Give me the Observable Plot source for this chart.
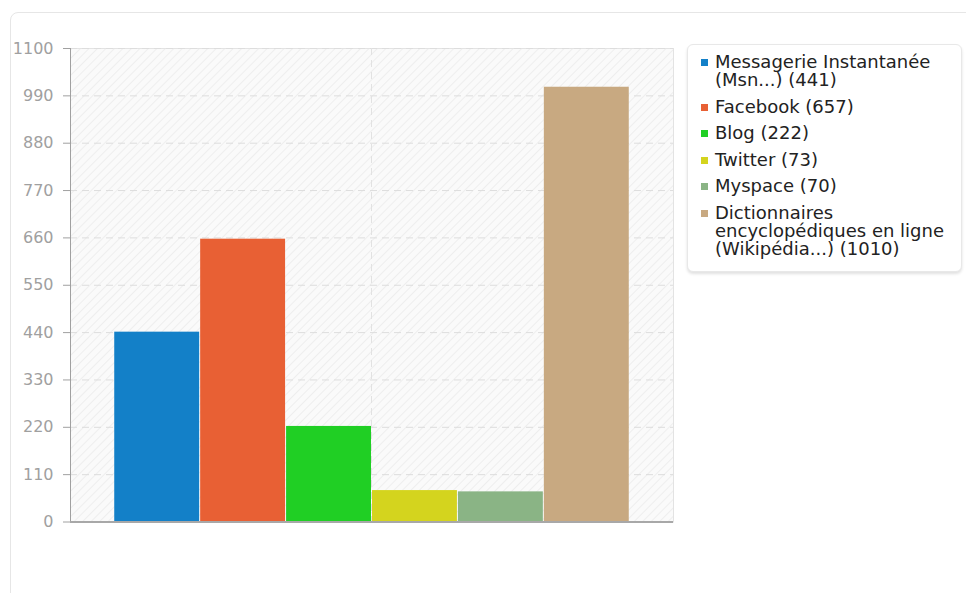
<!DOCTYPE html>
<html>
<head>
<meta charset="utf-8">
<script src="https://cdn.jsdelivr.net/npm/d3@7"></script>
<script src="https://cdn.jsdelivr.net/npm/@observablehq/plot@0.6"></script>
<style>
  html, body { margin: 0; padding: 0; background: #fff; overflow: hidden; }
  body { width: 966px; height: 593px; position: relative; font-family: 'DejaVu Sans', sans-serif; }
  #card { position: absolute; left: 10px; top: 12px; width: 990px; height: 640px;
          border: 1px solid #e6e6e6; border-radius: 8px; box-sizing: border-box; }
  #chart { position: absolute; left: 0; top: 0; }
  #legend { position: absolute; left: 687px; top: 44px; width: 275px; height: 228px; box-sizing: border-box;
            border: 1px solid #e8e8e8; border-radius: 6px; background: #fff;
            box-shadow: 0 2px 3px rgba(0,0,0,0.12); padding: 8px 4px 0 13px; }
  .item { display: flex; align-items: flex-start; margin-bottom: 8.5px; }
  .sw { width: 7px; height: 7px; flex: none; margin-top: 6px; margin-right: 7px; }
  .lab { font-size: 18px; line-height: 18px; color: #222; width: 240px; }
</style>
</head>
<body>
<div id="card"></div>
<div id="chart"></div>
<div id="legend"></div>
<script>
const series = [
  "Messagerie Instantanée (Msn...)",
  "Facebook",
  "Blog",
  "Twitter",
  "Myspace",
  "Dictionnaires encyclopédiques en ligne (Wikipédia...)"
];
const values = [441, 657, 222, 73, 70, 1010];
const colors = ["#1380c8", "#e86034", "#20cf24", "#d4d41e", "#8ab485", "#c8a981"];
const yTicks = [0, 110, 220, 330, 440, 550, 660, 770, 880, 990, 1100];

const data = series.map((s, i) => ({series: s, value: values[i]}));

const hatchDefs = () => {
  const g = d3.create("svg:g");
  const p = g.append("defs").append("pattern")
    .attr("id", "hatch").attr("patternUnits", "userSpaceOnUse")
    .attr("width", 6).attr("height", 6).attr("patternTransform", "rotate(45)");
  p.append("rect").attr("width", 6).attr("height", 6).attr("fill", "#fafafa");
  p.append("line").attr("x1", 0).attr("y1", 0).attr("x2", 0).attr("y2", 6)
    .attr("stroke", "#ebebeb").attr("stroke-width", 1.5);
  return g.node();
};

const centerLine = (index, scales, values, dim) => {
  const bw = scales.x.bandwidth();
  const cx = (scales.x(series[0]) + scales.x(series[series.length - 1]) + bw) / 2;
  const g = d3.create("svg:g");
  g.append("line").attr("x1", cx).attr("x2", cx)
    .attr("y1", dim.marginTop).attr("y2", dim.height - dim.marginBottom)
    .attr("stroke", "#e2e2e2").attr("stroke-dasharray", "7,5");
  return g.node();
};

const chart = Plot.plot({
  width: 680,
  height: 560,
  marginLeft: 70,
  marginRight: 7,
  marginTop: 48,
  marginBottom: 38.5,
  style: {fontFamily: "'DejaVu Sans'", fontSize: "16px", background: "transparent", overflow: "visible"},
  x: {type: "band", domain: series, paddingInner: 0, paddingOuter: 0.509, round: false, axis: null},
  y: {domain: [0, 1100], ticks: yTicks, axis: null},
  color: {domain: series, range: colors},
  marks: [
    hatchDefs,
    Plot.frame({fill: "url(#hatch)", stroke: "#e3e3e3"}),
    Plot.gridY(yTicks, {stroke: "#dddddd", strokeOpacity: 1, strokeDasharray: "7,5"}),
    centerLine,
    Plot.barY(data, {x: "series", y: "value", fill: "series", insetLeft: 0.5, insetRight: 0.5}),
    Plot.axisY(yTicks, {tickSize: 7, tickPadding: 10, color: "#a0a0a0", fontSize: 16, tickFormat: d => String(d), label: null}),
    Plot.frame({anchor: "left", stroke: "#a0a0a0"}),
    Plot.ruleY([0], {stroke: "#a8a8a8", strokeWidth: 2})
  ]
});
document.getElementById("chart").appendChild(chart);

const legend = document.getElementById("legend");
series.forEach((s, i) => {
  const item = document.createElement("div");
  item.className = "item";
  const sw = document.createElement("div");
  sw.className = "sw";
  sw.style.background = colors[i];
  const lab = document.createElement("div");
  lab.className = "lab";
  lab.textContent = `${s} (${values[i]})`;
  item.appendChild(sw);
  item.appendChild(lab);
  legend.appendChild(item);
});
</script>
</body>
</html>
